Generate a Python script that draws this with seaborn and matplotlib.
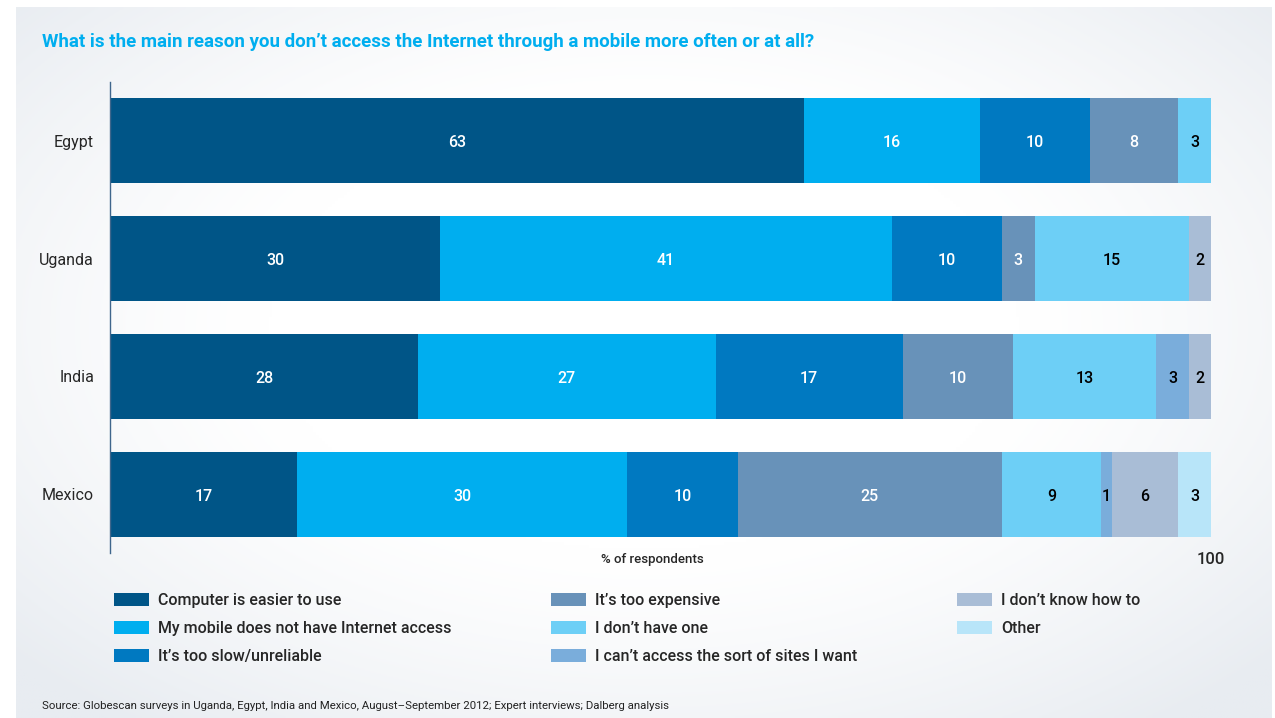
import matplotlib
matplotlib.use("Agg")
import matplotlib.pyplot as plt
import matplotlib.patches as mpatches
from matplotlib.colors import to_rgb
import numpy as np
import pandas as pd
import seaborn as sns

# ---- data (percent of respondents) ----
countries = ["Egypt", "Uganda", "India", "Mexico"]

reasons = [
    "Computer is easier to use",
    "My mobile does not have Internet access",
    "It\u2019s too slow/unreliable",
    "It\u2019s too expensive",
    "I don\u2019t have one",
    "I can\u2019t access the sort of sites I want",
    "I don\u2019t know how to",
    "Other",
]

computer_easier = [63, 30, 28, 17]
no_internet = [16, 41, 27, 30]
too_slow = [10, 10, 17, 10]
too_expensive = [8, 3, 10, 24]
no_phone = [3, 14, 13, 9]
cant_access = [0, 0, 3, 1]
dont_know = [0, 2, 2, 6]
other = [0, 0, 0, 3]

# printed labels that differ from the drawn bar width (rounding in the source)
printed = {("Uganda", 4): 15, ("Mexico", 3): 25}

colors = ["#005587", "#00aeef", "#0079c1", "#6892b9",
          "#6dcff6", "#7aaddb", "#a9bdd6", "#b8e5f9"]
text_colors = ["white"] * 4 + ["black"] * 4

series = [computer_easier, no_internet, too_slow, too_expensive,
          no_phone, cant_access, dont_know, other]

W, H = 1275, 718

sns.set_theme(style="white")
plt.rcParams["font.family"] = ["Roboto", "DejaVu Sans"]

fig = plt.figure(figsize=(W / 100, H / 100), dpi=100)
fig.patch.set_facecolor("white")

# soft grey vignette panel behind everything
bg = fig.add_axes([16 / W, 0, (1272 - 16) / W, (H - 7) / H], zorder=-10)
gx, gy = np.meshgrid(np.linspace(-1, 1, 400), np.linspace(-1, 1, 240))
d = np.sqrt((gx / 1.0) ** 2 + ((gy + 0.1) / 1.05) ** 2)
t = np.clip((d - 0.6) / 0.75, 0, 1) ** 1.3
edge = np.array(to_rgb("#e8ecf1"))
img = (1 - t)[..., None] * np.ones(3) + t[..., None] * edge
bg.imshow(img, aspect="auto", extent=(0, 1, 0, 1))
bg.set_axis_off()

ax = fig.add_axes([110 / W, 1 - 553 / H, 1101 / W, (553 - 82) / H])
ax.set_facecolor("none")

df = pd.DataFrame({"country": countries})
cum = np.zeros(len(countries))
cums = []
for s in series:
    cum = cum + np.array(s)
    cums.append(cum.copy())

# overlay cumulative totals, widest first, to build the stacked bars
for k in reversed(range(len(series))):
    df["total"] = cums[k]
    sns.barplot(data=df, x="total", y="country", orient="y",
                color=colors[k], saturation=1, width=0.72,
                edgecolor="none", linewidth=0, ax=ax)

for i, c in enumerate(countries):
    start = 0
    for k, s in enumerate(series):
        v = s[i]
        if v > 0:
            lab = printed.get((c, k), v)
            ax.text(start + v / 2, i + 0.02, str(lab), ha="center", va="center",
                    color=text_colors[k], fontsize=11.5, fontweight="medium")
        start += v

ax.set_xlim(0, 100)
ax.set_ylim(3.496, -0.496)
sns.despine(ax=ax, top=True, right=True, bottom=True, left=False)
ax.spines["left"].set_color("#3f668c")
ax.spines["left"].set_linewidth(1.0)

ax.set_xticks([100])
ax.set_xticklabels(["100"], fontsize=12, fontweight="medium")
ax.tick_params(axis="x", length=0, pad=-1)
ax.tick_params(axis="y", length=0, pad=11.5, labelsize=11.5)
ax.set_ylabel("")
ax.set_xlabel("% of respondents", fontsize=9.5, fontweight="medium", va="center")
ax.xaxis.set_label_coords((652 - 110) / 1101, -6 / 471)

# title and source
fig.text(42 / W, 1 - 42 / H, "What is the main reason you don\u2019t access the Internet "
         "through a mobile more often or at all?", color="#00aeef",
         fontsize=13.5, fontweight="bold", ha="left", va="center")
fig.text(42 / W, 1 - 706 / H, "Source: Globescan surveys in Uganda, Egypt, India and Mexico, "
         "August\u2013September 2012; Expert interviews; Dalberg analysis",
         color="#222222", fontsize=8.2, ha="left", va="center")

# legend, three columns
handles = [mpatches.Patch(facecolor=col, edgecolor="none") for col in colors]
cols = [(114, range(0, 3)), (551, range(3, 6)), (957, range(6, 8))]
for x0, idx in cols:
    leg = fig.legend([handles[j] for j in idx], [reasons[j] for j in idx],
                     loc="upper left", bbox_to_anchor=(x0 / W, 1 - 593 / H),
                     frameon=False, fontsize=11.5, handlelength=2.2,
                     handleheight=0.9, handletextpad=0.55, labelspacing=0.8,
                     borderpad=0, borderaxespad=0)
    for txt in leg.get_texts():
        txt.set_fontweight("medium")

fig.savefig("out.png", dpi=100)
